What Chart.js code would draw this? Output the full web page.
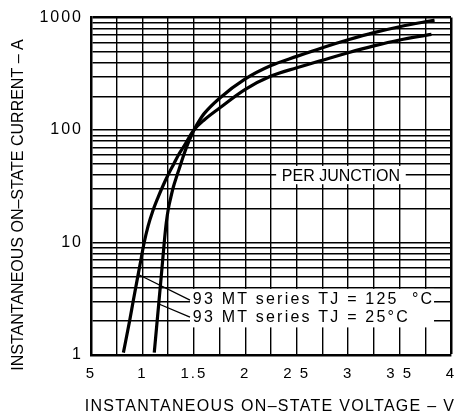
<!DOCTYPE html>
<html>
<head>
<meta charset="utf-8">
<script src="https://cdn.jsdelivr.net/npm/chart.js@4.4.1/dist/chart.umd.min.js"></script>
<style>
  html, body { margin: 0; padding: 0; background: #fff; }
  canvas { display: block; }
</style>
</head>
<body>
<canvas id="vfChart" width="474" height="416"></canvas>
<script>
// on-state voltage (V) against on-state current (A)
const voltage125 = [0.815, 0.875, 0.91, 0.955, 0.985, 1.015, 1.055, 1.10, 1.15, 1.20, 1.25, 1.30, 1.35, 1.40, 1.45, 1.50, 1.60, 1.75, 2.0, 2.25, 2.5, 2.75, 3.0, 3.25, 3.5, 3.75, 3.81];
const current125 = [1.05, 2, 3, 5, 7, 9.8, 14, 19, 25, 32, 40, 49, 60, 71, 85, 100, 123, 157, 230, 302, 358, 418, 487, 560, 632, 695, 710];
const voltage25 = [1.115, 1.143, 1.183, 1.212, 1.232, 1.252, 1.275, 1.30, 1.33, 1.36, 1.39, 1.42, 1.45, 1.48, 1.51, 1.55, 1.60, 1.75, 2.0, 2.25, 2.5, 2.75, 3.0, 3.25, 3.5, 3.84];
const current25 = [1.05, 2, 5, 10, 15, 20, 25, 31, 38, 46, 56, 67, 79, 91, 104, 120, 140, 192, 285, 375, 452, 540, 635, 735, 830, 950];

// axis ticks as printed on the sheet (the scan lost some decimal points)
const xLabelValues = [0.5, 1, 1.5, 2, 2.5, 3, 3.5, 4];
const xTickLabels = ['5', '1', '1.5', '2', '2 5', '3', '3 5', '4'];
const yDecades = [1, 10, 100, 1000];

// grid: every 0.25 V, and 1..9 in every decade
const xGrid = [];
for (let k = 0; k <= 14; k++) xGrid.push(0.5 + k * 0.25);
const yGrid = [];
for (const d of yDecades.slice(0, 3)) {
  for (let k = 1; k <= 9; k++) yGrid.push(d * k);
}
yGrid.push(1000);

const toPoints = (xs, ys) => xs.map((v, i) => ({ x: v, y: ys[i] }));

const FONT = 'Liberation Sans, Arial, sans-serif';

// labels, leader lines and axis titles drawn on top
const sheetText = {
  id: 'sheetText',
  beforeDraw(chart) {
    chart.ctx.letterSpacing = '2px';
  },
  beforeDatasetsDraw(chart) {
    const { ctx, scales: { x, y } } = chart;
    ctx.save();
    ctx.fillStyle = '#fff';
    // behind "PER JUNCTION"
    ctx.fillRect(x.getPixelForValue(2.3), y.getPixelForValue(48), x.getPixelForValue(3.56) - x.getPixelForValue(2.3), y.getPixelForValue(33) - y.getPixelForValue(48));
    // behind the curve names
    ctx.fillRect(x.getPixelForValue(1.4625), y.getPixelForValue(3.87), x.getPixelForValue(3.835) - x.getPixelForValue(1.4625), y.getPixelForValue(1.76) - y.getPixelForValue(3.87));
    ctx.restore();
  },
  afterDraw(chart) {
    const { ctx, scales: { x, y }, chartArea } = chart;
    ctx.save();
    ctx.fillStyle = '#000';
    ctx.strokeStyle = '#000';

    // leader lines
    ctx.lineWidth = 1.3;
    ctx.beginPath();
    ctx.moveTo(x.getPixelForValue(0.96), y.getPixelForValue(5.2));
    ctx.lineTo(x.getPixelForValue(1.4625), y.getPixelForValue(3.08));
    ctx.moveTo(x.getPixelForValue(1.16), y.getPixelForValue(2.84));
    ctx.lineTo(x.getPixelForValue(1.4625), y.getPixelForValue(2.17));
    ctx.stroke();

    ctx.font = '16px ' + FONT;
    ctx.textBaseline = 'alphabetic';
    ctx.textAlign = 'left';
    ctx.letterSpacing = '2.2px';
    ctx.fillText('93 MT series TJ = 125  °C', x.getPixelForValue(1.49), y.getPixelForValue(3.19) + 5.8);
    ctx.fillText('93 MT series TJ = 25°C', x.getPixelForValue(1.49), y.getPixelForValue(2.2) + 5.8);

    ctx.letterSpacing = '0px';
    ctx.textAlign = 'center';
    ctx.fillText('PER JUNCTION', x.getPixelForValue(2.93), y.getPixelForValue(40) + 5.8);

    // axis titles
    ctx.letterSpacing = '1.3px';
    ctx.fillText('INSTANTANEOUS ON–STATE VOLTAGE – V', (chartArea.left + chartArea.right) / 2 - 1, 410.5);

    ctx.letterSpacing = '0px';
    ctx.translate(19, 205);
    ctx.rotate(-Math.PI / 2);
    ctx.textBaseline = 'middle';
    ctx.fillText('INSTANTANEOUS ON–STATE CURRENT – A', 0, 0);
    ctx.restore();
  }
};

const edgeWidth = 2.5;
const gridWidth = 1.4;

new Chart(document.getElementById('vfChart').getContext('2d'), {
  type: 'line',
  data: {
    datasets: [{
      label: '93 MT series TJ = 125 °C',
      data: toPoints(voltage125, current125),
      borderColor: '#000',
      borderWidth: 3.2,
      pointRadius: 0,
      cubicInterpolationMode: 'monotone',
      fill: false
    }, {
      label: '93 MT series TJ = 25 °C',
      data: toPoints(voltage25, current25),
      borderColor: '#000',
      borderWidth: 3.2,
      pointRadius: 0,
      cubicInterpolationMode: 'monotone',
      fill: false
    }]
  },
  options: {
    responsive: false,
    animation: false,
    events: [],
    layout: { padding: { top: 13, right: 23, left: 0, bottom: 0 } },
    plugins: {
      legend: { display: false },
      tooltip: { enabled: false }
    },
    scales: {
      x: {
        type: 'linear',
        min: 0.5,
        max: 4,
        afterBuildTicks: s => { s.ticks = xGrid.map(v => ({ value: v })); },
        afterFit: s => { s.height = 61; },
        grid: {
          color: '#000',
          drawTicks: false,
          lineWidth: c => (c.tick && c.tick.value === 4) ? edgeWidth : gridWidth
        },
        border: { color: '#000', width: edgeWidth },
        ticks: {
          autoSkip: false,
          maxRotation: 0,
          padding: 10,
          color: '#000',
          font: { family: FONT, size: 15 },
          callback: v => {
            const i = xLabelValues.indexOf(v);
            return i < 0 ? '' : xTickLabels[i];
          }
        }
      },
      y: {
        type: 'logarithmic',
        min: 1,
        max: 1000,
        afterBuildTicks: s => { s.ticks = yGrid.map(v => ({ value: v })); },
        afterFit: s => { s.width = 91; },
        grid: {
          color: '#000',
          drawTicks: false,
          lineWidth: c => (c.tick && c.tick.value === 1000) ? edgeWidth : gridWidth
        },
        border: { color: '#000', width: edgeWidth },
        ticks: {
          autoSkip: false,
          padding: 8,
          color: '#000',
          font: { family: FONT, size: 16 },
          callback: v => yDecades.includes(v) ? String(v) : ''
        }
      }
    }
  },
  plugins: [sheetText]
});
</script>
</body>
</html>
